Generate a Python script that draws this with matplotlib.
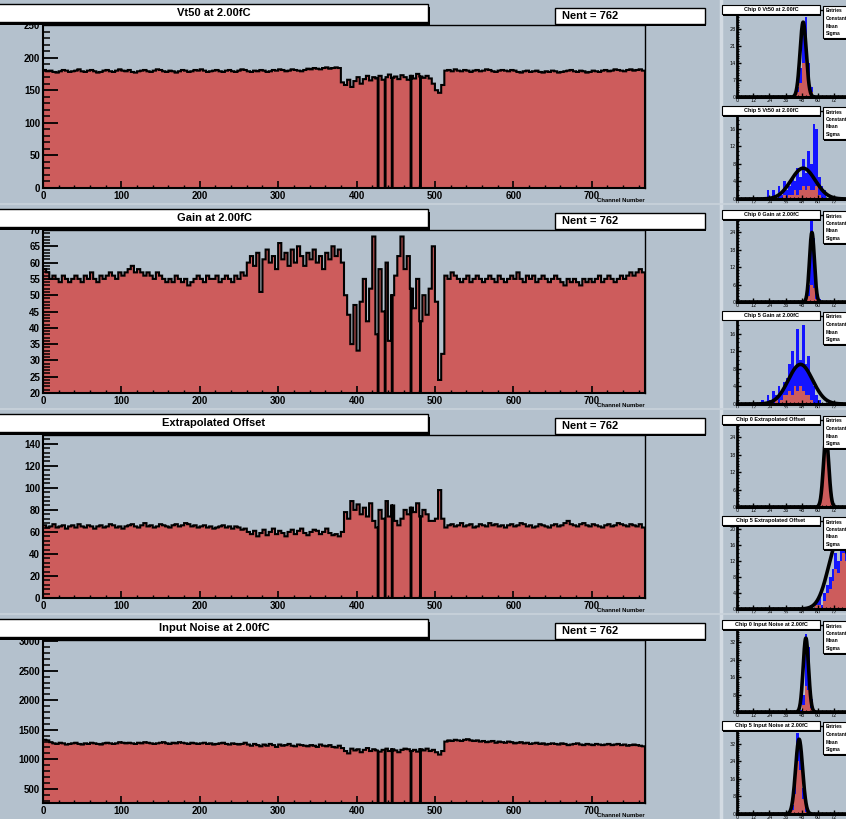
import numpy as np
import matplotlib
matplotlib.use('Agg')
import matplotlib.pyplot as plt
from matplotlib.patches import Rectangle
from matplotlib.ticker import MultipleLocator, FixedLocator

W, H = 846, 819
BG = '#b4c1cd'
RED = '#cd5c5c'
BLUE = '#1414ff'
FONT = ['Liberation Sans', 'DejaVu Sans']

# ---------------- data ----------------
titles = ['Vt50 at 2.00fC', 'Gain at 2.00fC', 'Extrapolated Offset', 'Input Noise at 2.00fC']
nent_text = 'Nent = 762'
x_axis_title = 'Channel Number'
n_channels = 768
group = 4                      # channels per listed value
dead_channels = [427, 436, 445, 469, 481]
ylims = [(0, 250), (20, 70), (0, 148), (260, 3020)]
y_major = [50, 5, 20, 500]
y_minor = [10, 1, 4, 100]

vt50 = [181,179,180,178,177,179,181,180,178,179, 180,182,179,178,180,181,179,177,178,180,
        181,179,178,180,182,180,179,181,178,177, 179,180,181,179,178,180,182,181,179,178,
        180,179,177,179,181,180,178,179,181,180, 182,180,178,179,180,181,179,178,180,181,
        179,178,180,182,181,179,178,180,179,181, 180,178,179,181,180,182,181,179,180,182,
        181,180,179,181,183,182,184,183,182,184, 185,183,184,185,184,
        162,158,166,155,164,170,160,167,172,165, 170,168,172,166,170,174,169,171,167,173,
        170,166,172,168,175,171,169,172,168,160, 150,146,158,
        180,181,179,182,180,179,181,180,178,180, 181,179,180,182,181,179,178,180,181,180,
        179,181,180,178,177,179,180,178,179,180, 178,177,179,178,180,179,177,178,179,180,
        181,179,178,180,179,177,178,180,179,178, 180,181,179,180,182,181,180,179,181,182,
        180,181,182,180]
gain = [58,57,55,56,55,54,56,55,54,55, 56,55,54,56,55,57,55,54,56,55,
        56,57,56,55,57,56,57,58,59,57, 58,57,56,57,56,55,57,56,55,54,
        55,54,56,55,54,55,53,54,55,56, 55,54,56,55,55,56,54,55,56,55,
        54,56,55,57,56,
        60,62,59,63,51,61,64,60,62,58, 66,61,63,59,64,60,65,62,59,63,
        61,64,60,62,58,63,61,65,62,64, 60,
        50,44,35,47,33,48,55,42,52,68, 38,58,45,60,36,50,56,62,68,58,
        62,52,46,55,42,50,44,52,65,48, 24,32,
        56,55,57,56,55,54,55,56,54,55, 56,55,54,55,56,55,54,56,55,54,
        55,56,55,57,55,54,56,55,56,54, 55,56,55,54,55,56,55,54,53,55,
        54,55,54,53,55,54,55,54,55,56, 54,55,56,55,54,55,56,55,56,57,
        56,57,58,57]
offset = [66,64,65,67,64,65,66,63,65,66, 64,67,65,64,66,65,63,65,66,64,
          65,67,66,64,65,63,65,66,67,65, 64,66,68,65,66,64,65,67,66,65,
          64,66,67,65,66,68,67,65,66,64, 65,66,64,65,63,64,65,66,64,65,
          63,65,64,62,63,
          60,58,61,56,59,62,57,60,63,58, 61,59,56,60,62,58,61,63,59,57,
          60,62,61,58,60,63,59,57,58,56, 60,
          78,72,88,80,85,76,82,74,86,70, 64,80,72,88,74,84,70,66,72,80,
          76,82,78,86,74,80,76,70,70,72, 98,72,
          64,66,67,65,66,68,65,66,67,64, 65,67,66,65,68,66,67,65,66,64,
          66,67,65,66,68,67,65,66,64,65, 67,66,65,64,66,67,65,66,68,70,
          67,66,65,67,68,66,65,67,66,65, 64,66,67,65,66,68,67,66,65,67,
          66,65,67,64]
noise = [1330,1320,1290,1270,1260,1280,1270,1250,1260,1270, 1280,1260,1250,1270,1260,1280,1270,1260,1250,1270,
         1280,1270,1260,1270,1290,1280,1270,1280,1270,1260, 1280,1270,1290,1280,1270,1260,1270,1280,1290,1270,
         1260,1280,1270,1290,1280,1270,1260,1280,1270,1260, 1270,1280,1260,1270,1250,1260,1270,1280,1260,1250,
         1270,1260,1250,1260,1280,
         1250,1230,1260,1240,1220,1250,1230,1260,1240,1210, 1250,1230,1240,1260,1230,1220,1250,1240,1230,1220,
         1240,1230,1210,1250,1230,1220,1240,1210,1200,1230, 1190,
         1140,1100,1180,1150,1170,1120,1160,1190,1140,1170, 1150,1130,1160,1180,1140,1170,1150,1120,1160,1180,
         1170,1140,1160,1130,1170,1150,1180,1140,1160,1120, 1080,1140,
         1300,1320,1310,1330,1320,1310,1330,1340,1320,1310, 1320,1300,1310,1290,1300,1310,1280,1300,1290,1280,
         1300,1290,1270,1280,1290,1270,1280,1260,1270,1280, 1260,1270,1250,1260,1270,1260,1250,1270,1260,1240,
         1250,1260,1270,1250,1240,1260,1250,1240,1260,1250, 1240,1250,1260,1240,1250,1260,1240,1250,1230,1240,
         1250,1240,1230,1220]
series = [vt50, gain, offset, noise]

# small distribution plots
small_titles = [['Chip 0 Vt50 at 2.00fC', 'Chip 5 Vt50 at 2.00fC'],
                ['Chip 0 Gain at 2.00fC', 'Chip 5 Gain at 2.00fC'],
                ['Chip 0 Extrapolated Offset', 'Chip 5 Extrapolated Offset'],
                ['Chip 0 Input Noise at 2.00fC', 'Chip 5 Input Noise at 2.00fC']]
small_start = [[42, 22], [50, 18], [60, 54], [46, 38]]
small_blue = [[[1,4,12,30,33,14,4,1], [2,0,2,0,3,1,4,2,3,5,4,7,5,9,6,11,8,17,16,5,3,2]],
              [[1,6,28,22,5,1], [1,0,2,1,3,2,4,3,5,6,9,12,8,17,10,18,9,11,6,4,2,1]],
              [[1,8,25,20,6,1], [1,0,2,3,1,4,6,8,10,14,12,16,18,15,13,11,9,7,5,3,2,1]],
              [[1,8,36,30,6,1], [1,4,16,37,30,12,3,1]]]
small_red = [[[0,2,6,14,16,7,2,0], [0,0,0,0,0,0,1,0,1,1,2,1,2,3,2,3,2,2,3,1,0,0]],
             [[0,2,6,5,1,0], [0,0,0,0,0,1,0,1,2,2,3,2,4,3,4,3,2,2,1,0,0,0]],
             [[1,8,25,20,6,1], [0,0,1,1,0,2,4,5,7,10,9,12,14,12,10,8,7,5,3,2,1,0]],
             [[0,3,12,10,2,0], [0,2,9,24,20,7,1,0]]]
small_fit = [[(49, 2.3, 31), (49, 9, 7)],
             [(55.5, 1.8, 24), (47, 9, 9)],
             [(66, 2.0, 24), (76, 8, 18)],
             [(51, 2.0, 34), (46, 2.6, 34)]]
small_ymax = [[36, 20], [30, 20], [30, 22], [40, 40]]
small_xticks = [0, 12, 24, 36, 48, 60, 72]
small_binw = 2
stats_lines = ['Entries', 'Constant', 'Mean', 'Sigma']

# ---------------- figure ----------------
fig = plt.figure(figsize=(W / 100, H / 100), dpi=100, facecolor=BG)


def fbox(x0, y0, x1, y1):
    return [x0 / W, 1 - y1 / H, (x1 - x0) / W, (y1 - y0) / H]


def box(x0, y0, x1, y1, lw=1.0, shadow=3):
    sx = Rectangle((x0 / W + shadow / W * 0.7, 1 - (y1 + shadow) / H), (x1 - x0) / W, (y1 - y0) / H,
                   transform=fig.transFigure, facecolor='black', edgecolor='none', zorder=9)
    fig.add_artist(sx)
    r = Rectangle((x0 / W, 1 - y1 / H), (x1 - x0) / W, (y1 - y0) / H, transform=fig.transFigure,
                  facecolor='white', edgecolor='black', lw=lw, zorder=10)
    fig.add_artist(r)


# pad separators
fig.add_artist(plt.Line2D([721 / W, 721 / W], [0, 1], transform=fig.transFigure, color='#d3dbe3', lw=2.5, zorder=1))
for i in range(1, 4):
    yy = 1 - (205 * i - 1) / H
    fig.add_artist(plt.Line2D([0, 1], [yy, yy], transform=fig.transFigure, color='#c9d2db', lw=1.2, zorder=1))

edges = np.arange(n_channels + 1)
for i in range(4):
    r = 205 * i
    ax = fig.add_axes(fbox(43, r + 25, 645, r + 188))
    ax.set_facecolor(BG)
    lo, hi = ylims[i]
    vals = np.repeat(np.array(series[i], float), group)
    vals[dead_channels] = lo
    ax.stairs(vals, edges, baseline=lo, fill=True, color=RED, lw=0)
    ax.stairs(vals, edges, baseline=lo, color='black', lw=1.5)
    ax.set_xlim(0, n_channels)
    ax.set_ylim(lo, hi)
    ax.xaxis.set_major_locator(MultipleLocator(100))
    ax.xaxis.set_minor_locator(MultipleLocator(20))
    ax.yaxis.set_major_locator(MultipleLocator(y_major[i]))
    ax.yaxis.set_minor_locator(MultipleLocator(y_minor[i]))
    ax.tick_params(axis='y', which='major', direction='in', length=11, width=1.3, pad=2, labelsize=7)
    ax.tick_params(axis='y', which='minor', direction='in', length=5, width=1.1)
    ax.tick_params(axis='x', which='major', direction='in', length=5, width=1.2, pad=2, labelsize=7)
    ax.tick_params(axis='x', which='minor', direction='in', length=2.5, width=1.0)
    for lab in ax.get_xticklabels() + ax.get_yticklabels():
        lab.set_fontfamily(FONT)
        lab.set_fontweight('bold')
    for s in ax.spines.values():
        s.set_linewidth(1.0)
    ax.spines['left'].set_linewidth(1.5)
    ax.spines['bottom'].set_linewidth(1.5)
    ax.text(1.0, -0.06, x_axis_title, transform=ax.transAxes, ha='right', va='top',
            fontsize=4.3, family=FONT, fontweight='bold')
    # title and Nent boxes
    box(-5, r + 4, 428, r + 22)
    fig.text(214 / W, 1 - (r + 13) / H, titles[i], ha='center', va='center', fontsize=8,
             family=FONT, fontweight='bold', zorder=11)
    box(555, r + 8, 705, r + 24, shadow=2)
    fig.text(562 / W, 1 - (r + 16) / H, nent_text, ha='left', va='center', fontsize=8,
             family=FONT, fontweight='bold', zorder=11)

    # small distribution plots
    for j in range(2):
        top = r + 10 + 101 * j
        bot = r + 97 + 102 * j
        sa = fig.add_axes(fbox(737, top, 872, bot))
        sa.set_facecolor(BG)
        b = np.array(small_blue[i][j], float)
        rd = np.array(small_red[i][j], float)
        e = small_start[i][j] + small_binw * np.arange(len(b) + 1)
        sa.stairs(b, e, fill=True, color=BLUE, lw=0)
        sa.stairs(rd, e, fill=True, color=RED, lw=0)
        m, sg, amp = small_fit[i][j]
        xx = np.linspace(0, 100, 400)
        sa.plot(xx, amp * np.exp(-0.5 * ((xx - m) / sg) ** 2), color='black', lw=2.6)
        sa.set_xlim(0, 100)
        sa.set_ylim(0, small_ymax[i][j])
        sa.xaxis.set_major_locator(FixedLocator(small_xticks))
        sa.xaxis.set_minor_locator(MultipleLocator(3))
        sa.yaxis.set_major_locator(MultipleLocator(max(1, small_ymax[i][j] // 5)))
        sa.yaxis.set_minor_locator(MultipleLocator(1))
        sa.tick_params(which='major', direction='in', length=3, width=1.0, pad=1, labelsize=3.5)
        sa.tick_params(which='minor', direction='in', length=1.5, width=0.8)
        for s in sa.spines.values():
            s.set_linewidth(1.0)
        sa.spines['left'].set_linewidth(2.0)
        sa.spines['bottom'].set_linewidth(2.2)
        ty = r + 5 + 101 * j
        box(722, ty, 820, ty + 9, lw=0.8, shadow=1.5)
        fig.text(771 / W, 1 - (ty + 4.5) / H, small_titles[i][j], ha='center', va='center',
                 fontsize=4, family=FONT, fontweight='bold', zorder=11)
        box(823, ty + 1, 870, ty + 33, lw=0.8, shadow=2)
        for k, line in enumerate(stats_lines):
            fig.text(826 / W, 1 - (ty + 6 + 7.5 * k) / H, line, ha='left', va='center',
                     fontsize=3.5, family=FONT, fontweight='bold', zorder=11)

fig.savefig('out.png', dpi=100, facecolor=BG)
